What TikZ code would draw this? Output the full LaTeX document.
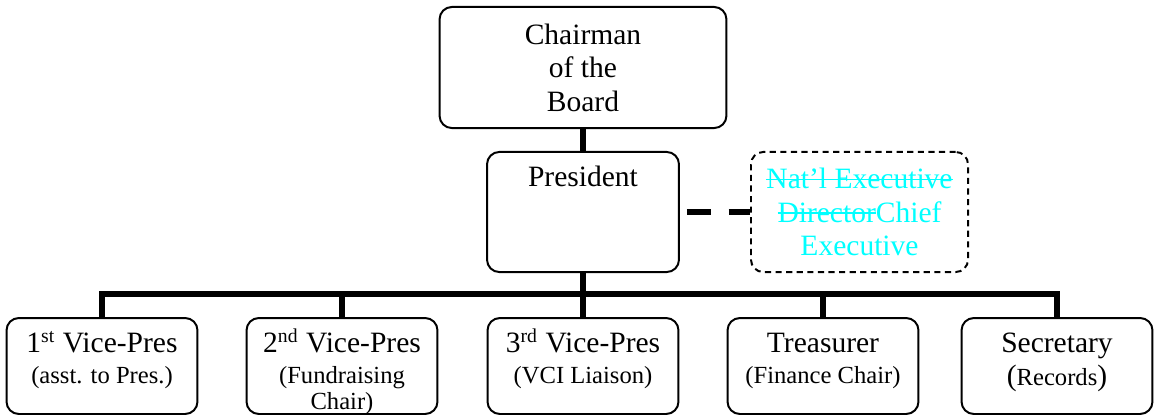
\documentclass[tikz,border=0pt]{standalone}
\usepackage{fontspec}
\setmainfont{Liberation Serif}
\definecolor{revcyan}{RGB}{0,255,255}
\tikzstyle{orgbox}=[draw,line width=0.8pt,rounded corners=5pt,inner sep=0pt,font=\fontsize{12}{13.6}\selectfont]
\tikzstyle{bar}=[line width=2.4pt]
\newcommand{\boxtext}[3]{\parbox[c][#2][t]{#1}{\centering\rule{0pt}{14.2pt}#3}}
\newcommand{\subtext}{\fontsize{10}{10.8}\selectfont}
\newcommand{\strike}[1]{\setbox0\hbox{#1}\rlap{\rule[0.28em]{\wd0}{0.6pt}}\box0}

\begin{document}
\begin{tikzpicture}[x=0.4064pt,y=-0.4064pt]
\useasboundingbox (0,0) rectangle (1154,417);

% top of the chart
\node[orgbox,minimum width=116.6pt,minimum height=49.2pt,align=center] (chair) at (583,67.5)
      {Chairman\\of the\\Board};
\node[orgbox] (pres) at (583,212) {\boxtext{78pt}{48.8pt}{President}};
\node[orgbox,dash pattern=on 2.5pt off 1.8pt,minimum width=88.2pt,minimum height=48.8pt,
      align=center,text=revcyan] (ceo) at (859.5,212)
      {\strike{Nat'l Executive}\\\strike{Director}Chief\\Executive};

% officers
\node[orgbox] (vp1) at (102,366)
      {\boxtext{77.6pt}{39pt}{1\textsuperscript{st} Vice-Pres\\[1.5pt]\subtext (asst. to Pres.)}};
\node[orgbox] (vp2) at (342,366)
      {\boxtext{77.6pt}{39pt}{2\textsuperscript{nd} Vice-Pres\\[1.5pt]\subtext (Fundraising\\Chair)}};
\node[orgbox] (vp3) at (583,366)
      {\boxtext{77.6pt}{39pt}{3\textsuperscript{rd} Vice-Pres\\[1.5pt]\subtext (VCI Liaison)}};
\node[orgbox] (treas) at (823,366)
      {\boxtext{77.6pt}{39pt}{Treasurer\\[1.5pt]\subtext (Finance Chair)}};
\node[orgbox] (sec) at (1057,366)
      {\boxtext{77.6pt}{39pt}{Secretary\\[1.5pt]\subtext {\fontsize{12}{12}\selectfont(}Records{\fontsize{12}{12}\selectfont)}}};

% lines
\coordinate (bus) at (583,294);
\draw[bar] (chair) -- (pres);
\draw[bar] (pres) -- (bus);
\draw[bar] (vp1.north) -- (vp1.north |- bus) -- (sec.north |- bus) -- (sec.north);
\foreach \n in {vp2,vp3,treas}
  \draw[bar] (bus -| \n.north) -- (\n.north);
\draw[bar,dash pattern=on 9.7pt off 7.3pt,shorten <=2.8pt] (pres) -- (ceo);
\end{tikzpicture}
\end{document}
